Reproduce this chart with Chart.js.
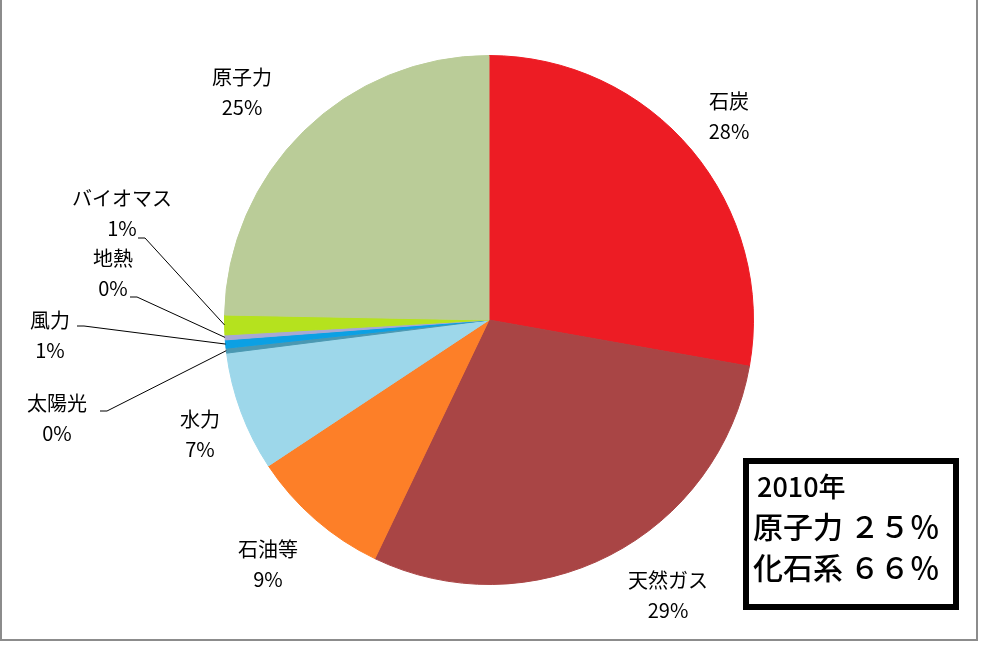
<!DOCTYPE html>
<html>
<head>
<meta charset="utf-8">
<script src="https://cdn.jsdelivr.net/npm/chart.js@4"></script>
<style>
  html, body { margin: 0; padding: 0; background: #fff; }
  #wrap { position: relative; width: 985px; height: 648px; }
</style>
</head>
<body>
<div id="wrap"><canvas id="pie" width="985" height="648"></canvas></div>
<script>
// 2010年 電源構成 (%)
const categories = ['石炭', '天然ガス', '石油等', '水力', '太陽光', '風力', '地熱', 'バイオマス', '原子力'];
const shares = [27.8, 29.3, 8.6, 7.3, 0.3, 0.5, 0.3, 1.2, 24.7];
const sliceColors = ['#ED1C24', '#A94545', '#FD7F28', '#9DD7EA', '#4A98B2', '#0BA0E4', '#A8A8D4', '#B5E21E', '#BACC98'];
const boxLines = ['2010年', '原子力 ２５％', '化石系 ６６％'];

// label layout: centre of the first text line; callouts get a leader start point
const labelPos = [[729, 101], [668, 580], [268, 549], [200, 419], [57, 403], [50, 320], [113, 258], [122, 198], [242, 77]];
const leaderFrom = [null, null, null, null, [100, 411], [77, 326], [130, 297], [138, 238], null];

const FONT = '"Noto Sans CJK JP", "Noto Sans", sans-serif';
const total = shares.reduce((a, b) => a + b, 0);

const labelPlugin = {
  id: 'sliceLabels',
  afterDraw(chart) {
    const ctx = chart.ctx;
    const arcs = chart.getDatasetMeta(0).data;
    ctx.save();
    ctx.fillStyle = '#000';
    ctx.font = '20px ' + FONT;
    ctx.textAlign = 'center';
    ctx.textBaseline = 'middle';
    arcs.forEach((arc, i) => {
      const [lx, ly] = labelPos[i];
      ctx.fillText(categories[i], lx, ly);
      ctx.fillText(Math.round(shares[i] * 100 / total) + '%', lx, ly + 30);
      if (leaderFrom[i]) {
        const p = arc.getProps(['x', 'y', 'startAngle', 'endAngle', 'outerRadius'], true);
        const mid = (p.startAngle + p.endAngle) / 2;
        const ex = p.x + Math.cos(mid) * p.outerRadius;
        const ey = p.y + Math.sin(mid) * p.outerRadius;
        const [sx, sy] = leaderFrom[i];
        ctx.beginPath();
        ctx.strokeStyle = '#000';
        ctx.lineWidth = 1;
        ctx.moveTo(sx, sy);
        ctx.lineTo(sx + 7, sy);
        ctx.lineTo(ex, ey);
        ctx.stroke();
      }
    });

    // summary box
    ctx.lineWidth = 6;
    ctx.strokeStyle = '#000';
    ctx.fillStyle = '#fff';
    ctx.fillRect(746, 461, 210, 146);
    ctx.strokeRect(746, 461, 210, 146);
    ctx.fillStyle = '#000';
    ctx.textAlign = 'left';
    ctx.font = '500 27px ' + FONT;
    ctx.fillText(boxLines[0], 757, 487);
    ctx.font = '500 30px ' + FONT;
    ctx.fillText(boxLines[1], 753, 527);
    ctx.fillText(boxLines[2], 753, 568);

    // outer frame
    ctx.strokeStyle = '#8c8c8c';
    ctx.lineWidth = 2;
    ctx.beginPath();
    ctx.moveTo(1, 0);
    ctx.lineTo(1, 640);
    ctx.lineTo(977, 640);
    ctx.lineTo(977, 0);
    ctx.stroke();
    ctx.restore();
  }
};

new Chart(document.getElementById('pie'), {
  type: 'pie',
  data: {
    labels: categories,
    datasets: [{
      data: shares,
      backgroundColor: sliceColors,
      borderColor: sliceColors,
      borderWidth: 1
    }]
  },
  options: {
    responsive: false,
    devicePixelRatio: 1,
    animation: false,
    layout: { padding: { top: 55, bottom: 63, left: 224, right: 231 } },
    plugins: {
      legend: { display: false },
      tooltip: { enabled: false }
    }
  },
  plugins: [labelPlugin]
});
</script>
</body>
</html>
